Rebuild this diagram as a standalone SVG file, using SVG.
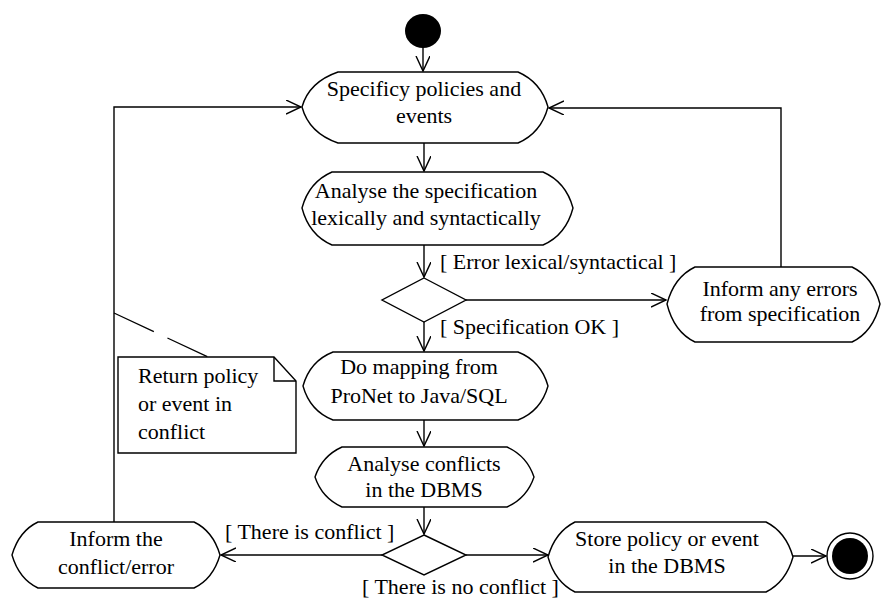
<svg xmlns="http://www.w3.org/2000/svg" width="885" height="599" viewBox="0 0 885 599">
<defs>
<style>
.n{fill:#fff;stroke:#000;stroke-width:1.4}
.t{font-family:"Liberation Serif","Times New Roman",serif;font-size:22px;fill:#000;text-anchor:middle}
.l{font-family:"Liberation Serif","Times New Roman",serif;font-size:22px;fill:#000}
.c{fill:none;stroke:#000;stroke-width:1.4;marker-end:url(#a)}
</style>
<marker id="a" markerUnits="userSpaceOnUse" markerWidth="20" markerHeight="20" refX="15" refY="7" orient="auto">
<path d="M0,0 L15,7 L0,14" fill="none" stroke="#000" stroke-width="1.4"/>
</marker>
</defs>
<g id="connectors">
<path class="c" d="M423,47 V71"/>
<path class="c" d="M424,143 V171"/>
<path class="c" d="M424,245 V277"/>
<path class="c" d="M466,300 H666"/>
<path class="c" d="M781,267 V108 H549"/>
<path class="c" d="M424,322 V351"/>
<path class="c" d="M424,420 V446"/>
<path class="c" d="M424,507 V534"/>
<path class="c" d="M382,555 H221"/>
<path class="c" d="M466,555 H548"/>
<path class="c" d="M793,556 H826"/>
<path class="c" d="M114,522 V107 H301"/>
<path d="M114,313 L208,357" fill="none" stroke="#000" stroke-width="1.3" stroke-dasharray="44 15"/>
</g>
<g id="start"><ellipse cx="423" cy="31" rx="18" ry="17" fill="#000"/></g>
<g id="specify">
<path class="n" d="M338,72 H518 Q541,82 548,107 Q541,133 518,143 H338 Q309,133 302,107 Q309,82 338,72 Z"/>
<text class="t" x="424" y="96">Specificy policies and</text>
<text class="t" x="424" y="123">events</text>
</g>
<g id="analyse">
<path class="n" d="M332,172 H543 Q566,182 573,208 Q566,235 543,245 H332 Q309,235 302,208 Q309,182 332,172 Z"/>
<text class="t" x="426" y="198">Analyse the specification</text>
<text class="t" x="426" y="225">lexically and syntactically</text>
</g>
<g id="decision1"><path class="n" d="M424,278 L466,300 L424,322 L382,300 Z"/></g>
<g id="informerrors">
<path class="n" d="M695,267 H852 Q873,277 880,304 Q873,332 852,342 H695 Q674,332 667,304 Q674,277 695,267 Z"/>
<text class="t" x="780" y="296">Inform any errors</text>
<text class="t" x="780" y="321">from specification</text>
</g>
<g id="mapping">
<path class="n" d="M333,352 H518 Q541,361 548,386 Q541,411 518,420 H333 Q310,411 303,386 Q310,361 333,352 Z"/>
<text class="t" x="419" y="374">Do mapping from</text>
<text class="t" x="419" y="403">ProNet to Java/SQL</text>
</g>
<g id="conflicts">
<path class="n" d="M342,447 H507 Q527,456 534,477 Q527,498 507,507 H342 Q322,498 315,477 Q322,456 342,447 Z"/>
<text class="t" x="424" y="471">Analyse conflicts</text>
<text class="t" x="424" y="497">in the DBMS</text>
</g>
<g id="decision2"><path class="n" d="M424,535 L466,555 L424,575 L382,555 Z"/></g>
<g id="informconflict">
<path class="n" d="M38,522 H194 Q213,531 220,555 Q213,579 194,588 H38 Q19,579 12,555 Q19,531 38,522 Z"/>
<text class="t" x="116" y="546">Inform the</text>
<text class="t" x="116" y="574">conflict/error</text>
</g>
<g id="store">
<path class="n" d="M575,522 H766 Q786,532 793,557 Q786,582 766,592 H575 Q555,582 548,557 Q555,532 575,522 Z"/>
<text class="t" x="667" y="546">Store policy or event</text>
<text class="t" x="667" y="573">in the DBMS</text>
</g>
<g id="end">
<circle cx="850" cy="556" r="23" fill="#fff" stroke="#000" stroke-width="1.4"/>
<circle cx="850" cy="556" r="18" fill="#000"/>
</g>
<g id="note">
<path class="n" d="M118,357 H274 L296,381 V453 H118 Z"/>
<path d="M274,357 V381 H296" fill="none" stroke="#000" stroke-width="1.4"/>
<text class="l" x="138" y="383">Return policy</text>
<text class="l" x="138" y="411">or event in</text>
<text class="l" x="138" y="439">conflict</text>
</g>
<g id="labels">
<text class="l" x="440" y="269">[ Error lexical/syntactical ]</text>
<text class="l" x="440" y="334">[ Specification OK ]</text>
<text class="l" x="225" y="539">[ There is conflict ]</text>
<text class="l" x="362" y="594">[ There is no conflict ]</text>
</g>
</svg>
